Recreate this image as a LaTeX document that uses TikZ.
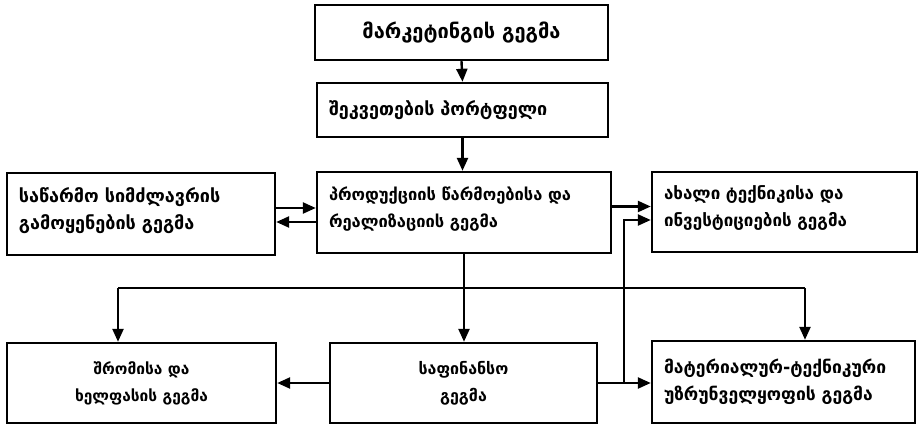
\documentclass[tikz,border=0pt]{standalone}
\usepackage{fontspec}
\setmainfont{DejaVu Sans}
\usetikzlibrary{arrows.meta,calc}

\newcommand{\gsize}[1]{\bfseries\fontsize{#1}{27}\selectfont}

\begin{document}
\begin{tikzpicture}[x=1pt,y=-1pt]
\tikzstyle{box} = [rectangle, draw, line width=2.4pt, inner xsep=12pt]
\tikzstyle{lbox} = [box, align=left]
\tikzstyle{cbox} = [box, align=center]
\tikzstyle{arr} = [line width=2.4pt, -{Triangle[length=13pt,width=11pt]}]
\tikzstyle{ln} = [line width=2.4pt]
\useasboundingbox (0,0) rectangle (922,426);
\node[cbox, minimum width=293pt, minimum height=55pt, font=\gsize{20}] (mkt) at (461.5,32.5) {მარკეტინგის გეგმა};
\node[lbox, minimum width=291pt, minimum height=54pt, text width=267pt, font=\gsize{18}] (port) at (462.5,110) {შეკვეთების პორტფელი};
\node[lbox, minimum width=268pt, minimum height=82pt, text width=244pt, text depth=38pt, font=\gsize{18}] (cap) at (141,214)
	{საწარმო სიმძლავრის\\გამოყენების გეგმა};
\node[lbox, minimum width=294pt, minimum height=81pt, text width=270pt, text depth=38pt, font=\gsize{16.5}] (prod) at (464,212.5)
	{პროდუქციის წარმოებისა და\\რეალიზაციის გეგმა};
\node[lbox, minimum width=265pt, minimum height=80pt, text width=241pt, text depth=38pt, font=\gsize{17}] (tech) at (784.5,212)
	{ახალი ტექნიკისა და\\ინვესტიციების გეგმა};
\node[cbox, minimum width=269pt, minimum height=80pt, font=\gsize{15.5}] (labor) at (141.5,383)
	{შრომისა და\\ხელფასის გეგმა};
\node[cbox, minimum width=267pt, minimum height=80pt, font=\gsize{16}] (fin) at (463.5,383)
	{საფინანსო\\გეგმა};
\node[lbox, minimum width=263pt, minimum height=82pt, text width=239pt, font=\gsize{17.5}] (mat) at (783.5,382)
	{მატერიალურ-ტექნიკური\\უზრუნველყოფის გეგმა};
\coordinate (busL) at (118,288);
\coordinate (busR) at (805,288);
\coordinate (jn) at (624,383);
\draw[arr] (mkt.south) -- (port.north);
\draw[arr] (port.south) -- (port.south |- prod.north);
\draw[arr] ([yshift=6pt]cap.east) -- ([yshift=6pt]cap.east -| prod.west);
\draw[arr] ([yshift=-8pt]cap.east -| prod.west) -- ([yshift=-8pt]cap.east);
\draw[arr] ([yshift=6pt]prod.east) -- ([yshift=6pt]prod.east -| tech.west);
\draw[arr] (prod.south) -- (prod.south |- fin.north);
\draw[ln] (busL) -- (busR);
\draw[arr] (busL) -- (busL |- labor.north);
\draw[arr] (busR) -- (busR |- mat.north);
\draw[arr] (fin.west) -- (labor.east);
\draw[ln] (fin.east) -- (jn);
\draw[arr] (jn) -- (jn -| mat.west);
\draw[arr] (jn) |- ([yshift=-8pt]tech.west);
\end{tikzpicture}
\end{document}
